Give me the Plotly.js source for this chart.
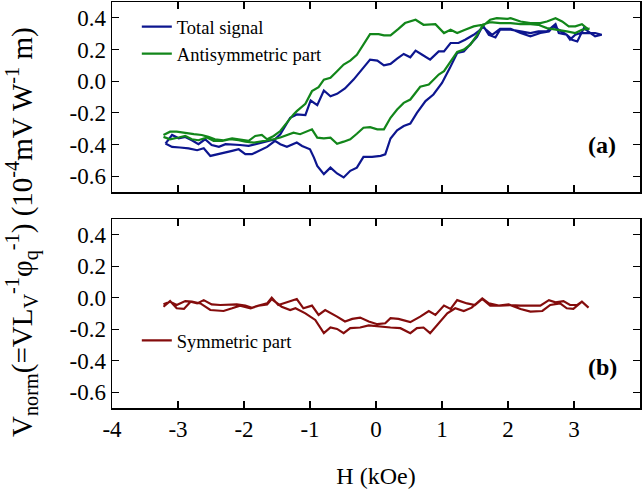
<!DOCTYPE html>
<html>
<head>
<meta charset="utf-8">
<script src="https://cdn.plot.ly/plotly-3.0.1.min.js"></script>
<style>html,body{margin:0;padding:0;background:#fff;}#chart{width:644px;height:493px;}</style>
</head>
<body>
<div id="chart"></div>
<script>
// ---- Data ----
// Total signal: ascending-field branch (left -> right)
var totalUpH = [-3.19,-3.09,-2.97,-2.84,-2.71,-2.61,-2.51,-2.41,-2.28,-2.18,-2.08,-1.98,-1.88,-1.75,-1.65,-1.53,-1.45,-1.35,-1.25,-1.20,-1.12,-1.00,-0.94,-0.89,-0.79,-0.69,-0.59,-0.49,-0.39,-0.29,-0.19,-0.06,0.07,0.14,0.22,0.32,0.42,0.52,0.62,0.75,0.87,1.00,1.12,1.23,1.33,1.43,1.53,1.61,1.76,1.88,2.04,2.19,2.34,2.49,2.62,2.69,2.77,2.89,2.94,3.02,3.10,3.20,3.32,3.42];
var totalUpV = [-0.394,-0.415,-0.419,-0.424,-0.436,-0.424,-0.472,-0.461,-0.451,-0.440,-0.430,-0.461,-0.461,-0.436,-0.415,-0.377,-0.398,-0.415,-0.398,-0.388,-0.409,-0.430,-0.483,-0.535,-0.587,-0.546,-0.583,-0.608,-0.566,-0.546,-0.478,-0.478,-0.472,-0.462,-0.362,-0.310,-0.283,-0.268,-0.200,-0.126,-0.084,-0.011,0.084,0.178,0.188,0.235,0.280,0.346,0.293,0.331,0.331,0.304,0.283,0.304,0.314,0.346,0.325,0.293,0.262,0.293,0.304,0.304,0.304,0.293];
// Total signal: descending-field branch (right -> left)
var totalDownH = [3.42,3.32,3.25,3.15,3.05,2.97,2.89,2.77,2.72,2.59,2.46,2.34,2.19,2.04,1.88,1.81,1.71,1.63,1.56,1.48,1.35,1.25,1.13,1.03,0.95,0.82,0.70,0.60,0.52,0.42,0.32,0.22,0.12,0.02,-0.09,-0.21,-0.34,-0.47,-0.59,-0.69,-0.79,-0.89,-0.99,-1.07,-1.20,-1.30,-1.37,-1.45,-1.53,-1.63,-1.73,-1.83,-1.93,-2.06,-2.18,-2.28,-2.38,-2.49,-2.59,-2.69,-2.79,-2.89,-2.99,-3.09,-3.19];
var totalDownV = [0.293,0.283,0.304,0.335,0.251,0.262,0.293,0.304,0.360,0.314,0.314,0.304,0.314,0.325,0.325,0.277,0.293,0.346,0.318,0.293,0.262,0.241,0.241,0.188,0.188,0.136,0.167,0.193,0.151,0.172,0.142,0.109,0.100,0.130,0.136,0.073,0.010,-0.046,-0.080,-0.095,-0.059,-0.151,-0.122,-0.214,-0.210,-0.231,-0.283,-0.335,-0.367,-0.377,-0.388,-0.398,-0.409,-0.403,-0.398,-0.398,-0.415,-0.403,-0.367,-0.398,-0.373,-0.352,-0.361,-0.340,-0.394];

// Antisymmetric part
var antiUpH = [-3.22,-3.12,-2.99,-2.89,-2.79,-2.69,-2.56,-2.46,-2.33,-2.21,-2.08,-1.98,-1.85,-1.75,-1.65,-1.55,-1.45,-1.35,-1.25,-1.15,-1.05,-0.97,-0.89,-0.79,-0.69,-0.59,-0.49,-0.39,-0.29,-0.19,-0.09,0.02,0.12,0.22,0.32,0.42,0.52,0.62,0.67,0.80,0.95,1.03,1.13,1.23,1.33,1.43,1.53,1.61,1.73,1.83,1.99,2.04,2.19,2.34,2.49,2.59,2.72,2.82,2.92,3.02,3.12,3.22];
var antiUpV = [-0.352,-0.367,-0.356,-0.346,-0.367,-0.373,-0.356,-0.377,-0.377,-0.367,-0.373,-0.382,-0.388,-0.382,-0.377,-0.367,-0.356,-0.340,-0.325,-0.335,-0.319,-0.304,-0.357,-0.361,-0.357,-0.395,-0.382,-0.367,-0.332,-0.294,-0.290,-0.304,-0.304,-0.231,-0.179,-0.137,-0.116,-0.059,-0.035,-0.021,0.042,0.063,0.120,0.185,0.199,0.230,0.290,0.346,0.388,0.398,0.394,0.398,0.377,0.367,0.367,0.377,0.398,0.377,0.346,0.346,0.360,0.325];
var antiDownH = [3.22,3.12,3.02,2.89,2.74,2.59,2.46,2.34,2.19,2.04,1.88,1.73,1.61,1.48,1.35,1.23,1.13,1.03,0.90,0.72,0.60,0.52,0.44,0.34,0.22,0.12,0.04,-0.09,-0.19,-0.29,-0.39,-0.49,-0.59,-0.69,-0.79,-0.87,-0.97,-1.07,-1.20,-1.25,-1.35,-1.45,-1.55,-1.65,-1.73,-1.83,-1.93,-2.06,-2.18,-2.31,-2.44,-2.54,-2.64,-2.76,-2.89,-3.02,-3.12,-3.22];
var antiDownV = [0.331,0.325,0.304,0.314,0.325,0.335,0.356,0.360,0.360,0.367,0.367,0.373,0.356,0.346,0.325,0.304,0.325,0.304,0.360,0.356,0.388,0.377,0.367,0.330,0.289,0.289,0.297,0.297,0.230,0.167,0.130,0.105,0.063,0.021,0.010,-0.038,-0.063,-0.143,-0.189,-0.210,-0.262,-0.315,-0.346,-0.367,-0.340,-0.346,-0.377,-0.367,-0.361,-0.373,-0.367,-0.352,-0.340,-0.335,-0.325,-0.319,-0.319,-0.340];

// Symmetric part
var symAH = [-3.22,-3.12,-3.02,-2.91,-2.81,-2.71,-2.61,-2.49,-2.36,-2.23,-2.11,-1.98,-1.88,-1.75,-1.65,-1.58,-1.48,-1.35,-1.20,-1.10,-0.97,-0.87,-0.77,-0.59,-0.47,-0.36,-0.24,-0.11,0.02,0.14,0.22,0.34,0.52,0.67,0.80,0.90,1.03,1.13,1.23,1.38,1.50,1.61,1.73,1.88,2.04,2.19,2.34,2.49,2.62,2.72,2.84,2.94,3.05,3.12,3.22];
var symAV = [-0.057,-0.021,-0.067,-0.071,-0.025,-0.036,-0.015,-0.042,-0.046,-0.046,-0.042,-0.050,-0.063,-0.046,-0.036,0.000,-0.046,-0.029,-0.008,-0.067,-0.050,-0.109,-0.078,-0.120,-0.151,-0.134,-0.126,-0.151,-0.168,-0.162,-0.130,-0.134,-0.155,-0.120,-0.084,-0.109,-0.050,-0.071,-0.015,-0.036,-0.046,-0.008,-0.050,-0.050,-0.046,-0.050,-0.050,-0.050,-0.015,-0.029,-0.021,-0.046,-0.046,-0.025,-0.063];
var symBH = [3.22,3.12,2.99,2.89,2.79,2.64,2.52,2.34,2.19,2.01,1.86,1.71,1.61,1.45,1.33,1.20,1.08,0.95,0.82,0.72,0.62,0.52,0.37,0.22,0.07,-0.11,-0.24,-0.39,-0.49,-0.59,-0.69,-0.79,-0.92,-1.07,-1.22,-1.30,-1.43,-1.58,-1.65,-1.78,-1.90,-2.06,-2.18,-2.31,-2.51,-2.66,-2.79,-2.89,-3.02,-3.12,-3.22];
var symBV = [-0.063,-0.025,-0.071,-0.067,-0.036,-0.046,-0.084,-0.088,-0.071,-0.042,-0.050,-0.036,-0.004,-0.063,-0.084,-0.067,-0.099,-0.162,-0.225,-0.189,-0.193,-0.225,-0.193,-0.189,-0.183,-0.176,-0.189,-0.193,-0.225,-0.198,-0.189,-0.225,-0.141,-0.099,-0.067,-0.078,-0.057,-0.008,-0.042,-0.050,-0.067,-0.050,-0.067,-0.084,-0.078,-0.036,-0.025,-0.021,-0.046,-0.025,-0.042];

// Tick labels
var xTickVals = [-4,-3,-2,-1,0,1,2,3,4];
var xTickText = ["-4","-3","-2","-1","0","1","2","3","4"];
var yTickVals = [-0.6,-0.4,-0.2,0.0,0.2,0.4];
var yTickText = ["-0.6","-0.4","-0.2","0.0","0.2","0.4"];

var seriesNames = ["Total signal","Antisymmetric part","Symmetric part"];
var panelLabels = ["(a)","(b)"];
var xTitle = "H (kOe)";
var yTitle = "V<sub>norm</sub>(=VL<sub>V</sub><sup>-1</sup>φ<sub>q</sub><sup>-1</sup>) (10<sup>-4</sup>mV W<sup>-1</sup> m)";

// ---- Styling ----
var FONT = "Liberation Serif";
var cBlue = "#0d168f", cGreen = "#12861a", cRed = "#840c0c";

var traces = [
  {x: totalUpH.concat(totalDownH), y: totalUpV.concat(totalDownV), type: "scatter", mode: "lines",
   name: seriesNames[0], line: {color: cBlue, width: 2.2}, xaxis: "x", yaxis: "y", legend: "legend"},
  {x: antiUpH.concat(antiDownH), y: antiUpV.concat(antiDownV), type: "scatter", mode: "lines",
   name: seriesNames[1], line: {color: cGreen, width: 2.2}, xaxis: "x", yaxis: "y", legend: "legend"},
  {x: symAH.concat(symBH), y: symAV.concat(symBV), type: "scatter", mode: "lines",
   name: seriesNames[2], line: {color: cRed, width: 2.2}, xaxis: "x2", yaxis: "y2", legend: "legend2"}
];

function xAxis(showLabels, anchor, withTitle) {
  var a = {
    range: [-4, 4], anchor: anchor, domain: [0, 1],
    tickmode: "array", tickvals: xTickVals, ticktext: xTickText,
    ticks: "inside", ticklen: 7, tickwidth: 1.2, tickcolor: "#000",
    showline: true, linecolor: "#000", linewidth: 1.5, mirror: "ticks",
    showgrid: false, zeroline: false, showticklabels: showLabels,
    tickfont: {family: FONT, size: 23, color: "#000"}
  };
  if (withTitle) a.title = {text: xTitle, font: {family: FONT, size: 24, color: "#000"}, standoff: 26};
  return a;
}
function yAxis(domain, anchor) {
  return {
    range: [-0.7, 0.5], domain: domain, anchor: anchor,
    tickmode: "array", tickvals: yTickVals, ticktext: yTickText,
    ticks: "inside", ticklen: 7, tickwidth: 1.2, tickcolor: "#000",
    showline: true, linecolor: "#000", linewidth: 1.5, mirror: "ticks",
    showgrid: false, zeroline: false,
    tickfont: {family: FONT, size: 23, color: "#000"}
  };
}

var layout = {
  width: 644, height: 493,
  margin: {l: 112, r: 4, t: 2, b: 85},
  paper_bgcolor: "#fff", plot_bgcolor: "#fff",
  font: {family: FONT, color: "#000"},
  xaxis: xAxis(false, "y", false),
  yaxis: yAxis([0.532, 1], "x"),
  xaxis2: xAxis(true, "y2", true),
  yaxis2: yAxis([0, 0.4655], "x2"),
  showlegend: true,
  legend: {x: 0.047, y: 0.985, xanchor: "left", yanchor: "top", bgcolor: "rgba(0,0,0,0)",
           font: {family: FONT, size: 18.5, color: "#000"}, tracegroupgap: 0},
  legend2: {x: 0.047, y: 0.212, xanchor: "left", yanchor: "top", bgcolor: "rgba(0,0,0,0)",
           font: {family: FONT, size: 18.5, color: "#000"}},
  annotations: [
    {text: "<b>" + panelLabels[0] + "</b>", x: 3.43, y: -0.405, xref: "x", yref: "y",
     showarrow: false, font: {family: FONT, size: 24, color: "#000"}},
    {text: "<b>" + panelLabels[1] + "</b>", x: 3.43, y: -0.44, xref: "x2", yref: "y2",
     showarrow: false, font: {family: FONT, size: 24, color: "#000"}},
    {text: yTitle, xref: "paper", yref: "paper", x: -0.17, y: 0.434, textangle: -90,
     xanchor: "center", yanchor: "middle", showarrow: false,
     font: {family: FONT, size: 29, color: "#000"}}
  ]
};

Plotly.newPlot("chart", traces, layout, {displayModeBar: false, staticPlot: true});
</script>
</body>
</html>
